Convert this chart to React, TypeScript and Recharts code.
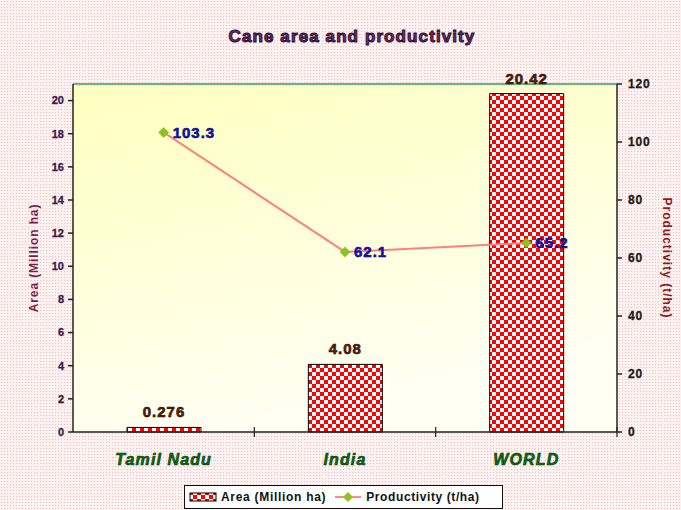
import React from 'react'
import {
  ComposedChart,
  Bar,
  Line,
  XAxis,
  YAxis,
  CartesianGrid,
  Legend,
  LabelList,
  ReferenceLine,
} from 'recharts'

const regions = ['Tamil Nadu', 'India', 'WORLD']
const areaValues = [0.276, 4.08, 20.42]
const productivityValues = [103.3, 62.1, 65.2]
const areaTicks = [0, 2, 4, 6, 8, 10, 12, 14, 16, 18, 20]
const productivityTicks = [0, 20, 40, 60, 80, 100, 120]

const data = regions.map((region, i) => ({
  region,
  area: areaValues[i],
  productivity: productivityValues[i],
}))

const FONT = '"Liberation Sans", Arial, sans-serif'

function RegionTick(props: any) {
  const { x, y, payload } = props
  const half = payload?.offset ?? 91
  return (
    <g>
      <line x1={x + half} y1={y - 5} x2={x + half} y2={y + 5} stroke="#222" strokeWidth={1.2} />
      <text
        x={x}
        y={y + 33}
        textAnchor="middle"
        fill="#0b6a12"
        stroke="#053a08"
        strokeWidth={0.6}
        fontFamily={FONT}
        fontWeight="bold"
        fontStyle="italic"
        fontSize={16}
        letterSpacing={1.1}
      >
        {payload.value}
      </text>
    </g>
  )
}

function Diamond(props: any) {
  const { cx, cy } = props
  if (cx == null || cy == null) return null
  const r = 5
  return (
    <path
      d={`M${cx},${cy - r}L${cx + r},${cy}L${cx},${cy + r}L${cx - r},${cy}Z`}
      fill="#8fc31f"
      stroke="#7aa818"
      strokeWidth={0.5}
    />
  )
}

function ChartLegend() {
  return (
    <div
      style={{
        width: 317,
        height: 22,
        border: '1px solid #111',
        background: '#fff',
        display: 'flex',
        alignItems: 'center',
        fontFamily: FONT,
        fontWeight: 'bold',
        fontSize: 12,
        color: '#111',
        boxSizing: 'content-box',
        whiteSpace: 'nowrap',
      }}
    >
      <svg width={32} height={12} style={{ marginLeft: 4 }}>
        <rect x={1} y={2} width={26} height={8} fill="url(#checker)" stroke="#000" strokeWidth={1} />
      </svg>
      <span style={{ letterSpacing: 0.7 }}>Area (Million ha)</span>
      <svg width={32} height={12} style={{ marginLeft: 8 }}>
        <line x1={1} y1={6} x2={27} y2={6} stroke="#ff8a8a" strokeWidth={2} />
        <path d="M14,1L19,6L14,11L9,6Z" fill="#8fc31f" />
      </svg>
      <span style={{ letterSpacing: 0.6 }}>Productivity (t/ha)</span>
    </div>
  )
}

export default function App() {
  return (
    <div
      style={{
        position: 'absolute',
        left: 0,
        top: 0,
        width: 681,
        height: 510,
        backgroundColor: '#fdf2f2',
        backgroundImage: 'radial-gradient(#f2bcbc 0.9px, transparent 1px)',
        backgroundSize: '3px 3px',
      }}
    >
      <style>{'body{margin:0}'}</style>
      <ComposedChart
        width={681}
        height={510}
        data={data}
        margin={{ top: 84, right: 0, bottom: 1, left: 0 }}
        barCategoryGap="30%"
      >
        <defs>
          <pattern id="checker" width={8} height={8} patternUnits="userSpaceOnUse">
            <rect width={8} height={8} fill="#fff" />
            <rect width={4} height={4} fill="#ff0000" />
            <rect x={4} y={4} width={4} height={4} fill="#ff0000" />
          </pattern>
          <linearGradient id="plotBg" x1="0" y1="0" x2="0.35" y2="1">
            <stop offset="0%" stopColor="#ffffc0" />
            <stop offset="100%" stopColor="#fffff4" />
          </linearGradient>
        </defs>
        <text
          x={352}
          y={42}
          textAnchor="middle"
          fill="#7a2a6a"
          stroke="#2a0f30"
          strokeWidth={1}
          fontFamily={FONT}
          fontWeight="bold"
          fontSize={17}
          letterSpacing={1.1}
        >
          Cane area and productivity
        </text>
        <CartesianGrid horizontal={false} vertical={false} fill="url(#plotBg)" />
        <XAxis
          dataKey="region"
          height={53}
          tickLine={false}
          tickSize={0}
          tickMargin={0}
          interval={0}
          stroke="#222"
          strokeWidth={1.5}
          tick={<RegionTick />}
        />
        <YAxis
          yAxisId="left"
          orientation="left"
          width={73}
          domain={[0, 21]}
          ticks={areaTicks}
          interval={0}
          stroke="#222"
          strokeWidth={1.5}
          tickSize={5}
          tickMargin={4}
          tick={{ fill: '#3a1846', stroke: '#3a1846', strokeWidth: 0.3, fontSize: 11, fontWeight: 'bold', fontFamily: FONT }}
          label={{
            value: 'Area (Million ha)',
            angle: -90,
            position: 'insideLeft',
            offset: 34,
            style: { fill: '#7a1f4a', fontSize: 12, fontWeight: 'bold', fontFamily: FONT, textAnchor: 'middle', letterSpacing: 0.9 },
          }}
        />
        <YAxis
          yAxisId="right"
          orientation="right"
          width={64}
          domain={[0, 120]}
          ticks={productivityTicks}
          interval={0}
          stroke="#222"
          strokeWidth={1.5}
          tickSize={5}
          tickMargin={6}
          tick={{ fill: '#1a1a1a', stroke: '#1a1a1a', strokeWidth: 0.3, fontSize: 12, fontWeight: 'bold', fontFamily: FONT, letterSpacing: 0.8 }}
          label={{
            value: 'Productivity (t/ha)',
            angle: 90,
            position: 'insideRight',
            offset: 14,
            style: { fill: '#8b1a1a', fontSize: 12, fontWeight: 'bold', fontFamily: FONT, textAnchor: 'middle', letterSpacing: 1 },
          }}
        />
        <ReferenceLine yAxisId="left" y={21} stroke="#2e9e6e" strokeWidth={1.5} />
        <Bar
          yAxisId="left"
          dataKey="area"
          name="Area (Million ha)"
          barSize={74}
          fill="url(#checker)"
          stroke="#000"
          strokeWidth={1}
          isAnimationActive={false}
        >
          <LabelList
            dataKey="area"
            position="top"
            offset={10}
            fill="#5c1e08"
            stroke="#2a0c02"
            strokeWidth={0.6}
            fontFamily={FONT}
            fontWeight="bold"
            fontSize={15}
            letterSpacing={1}
          />
        </Bar>
        <Line
          yAxisId="right"
          dataKey="productivity"
          name="Productivity (t/ha)"
          stroke="#ff8080"
          strokeWidth={2}
          dot={<Diamond />}
          activeDot={false}
          isAnimationActive={false}
        >
          <LabelList
            dataKey="productivity"
            position="right"
            offset={9}
            fill="#1414c8"
            stroke="#0a0a70"
            strokeWidth={0.6}
            fontFamily={FONT}
            fontWeight="bold"
            fontSize={15}
            letterSpacing={1}
          />
        </Line>
        <Legend
          verticalAlign="bottom"
          content={<ChartLegend />}
          wrapperStyle={{ left: 184, width: 319 }}
        />
      </ComposedChart>
    </div>
  )
}
